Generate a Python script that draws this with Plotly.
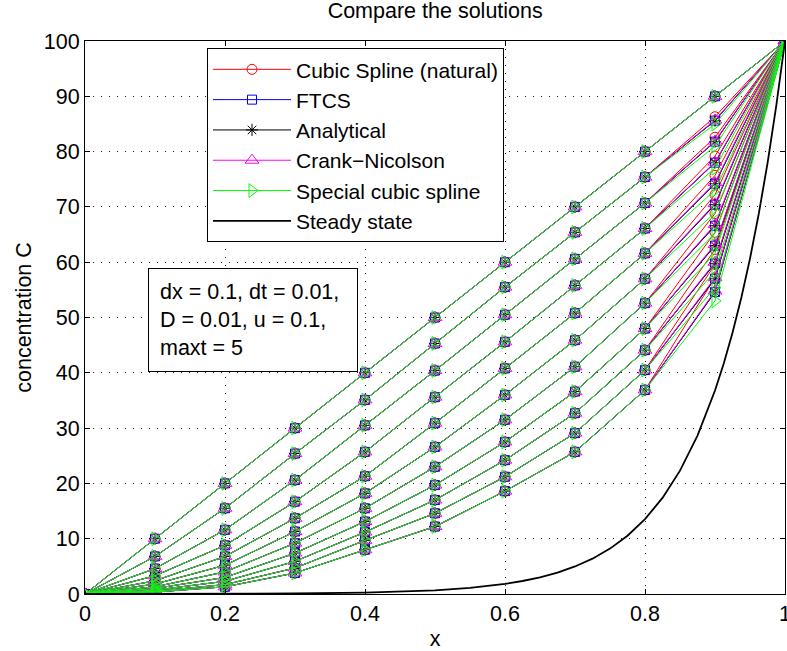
import plotly.graph_objects as go

# ---------------- data ----------------
x_nodes = [0.0, 0.1, 0.2, 0.3, 0.4, 0.5, 0.6, 0.7, 0.8, 0.9, 1.0]
times = [0.0, 0.5, 1.0, 1.5, 2.0, 2.5, 3.0, 3.5, 4.0, 4.5, 5.0]

# Analytical profiles (one row per time)
analytical = [
    [0, 10.0, 20.0, 30.0, 40.0, 50.0, 60.0, 70.0, 80.0, 90.0, 100],
    [0, 6.8, 15.5, 25.4, 35.1, 45.3, 55.5, 65.4, 75.4, 85.6, 100],
    [0, 4.6, 11.6, 20.6, 30.5, 40.4, 50.5, 60.6, 70.7, 81.8, 100],
    [0, 3.3, 8.8, 16.7, 25.7, 35.6, 45.6, 55.8, 66.1, 78.0, 100],
    [0, 2.4, 6.8, 13.7, 21.3, 30.9, 40.8, 50.8, 61.6, 74.2, 100],
    [0, 1.8, 5.2, 11.3, 18.2, 26.6, 36.0, 45.9, 57.0, 70.4, 100],
    [0, 1.3, 4.0, 9.2, 15.5, 23.0, 31.5, 41.1, 52.6, 66.6, 100],
    [0, 1.0, 3.0, 7.4, 13.1, 19.7, 27.5, 36.6, 48.0, 63.0, 100],
    [0, 0.7, 2.3, 5.9, 11.2, 17.0, 24.2, 32.7, 44.1, 59.8, 100],
    [0, 0.5, 1.7, 4.7, 9.7, 14.6, 21.2, 29.1, 40.5, 57.0, 100],
    [0, 0.35, 1.3, 3.8, 8.0, 12.2, 18.6, 25.7, 36.9, 54.6, 100],
]

# values at x = 0.9 where the methods visibly differ
c09_cubic = [90.0, 86.3, 82.6, 79.2, 75.7, 72.2, 68.8, 65.4, 62.3, 59.6, 57.2]
c09_ftcs = [90.0, 85.6, 81.8, 78.0, 74.2, 70.4, 66.6, 63.0, 59.8, 57.0, 54.6]
c09_cn = [90.0, 85.7, 81.9, 78.1, 74.4, 70.6, 66.8, 63.2, 60.0, 57.2, 54.8]
c09_special = [90.0, 85.0, 81.0, 77.0, 73.0, 69.0, 65.2, 61.6, 58.3, 55.4, 53.0]

# steady state curve
ss_x = [0.0, 0.1, 0.2, 0.3, 0.4, 0.45, 0.5, 0.55, 0.6, 0.625, 0.65, 0.675, 0.7,
        0.725, 0.75, 0.775, 0.8, 0.825, 0.85, 0.875, 0.9, 0.9125, 0.925, 0.9375,
        0.95, 0.9625, 0.975, 0.9875, 1.0]
ss_c = [0.0, 0.01, 0.03, 0.09, 0.25, 0.41, 0.67, 1.11, 1.83, 2.35, 3.02, 3.88, 4.98,
        6.39, 8.21, 10.54, 13.53, 17.38, 22.31, 28.65, 36.79, 41.69, 47.24, 53.53,
        60.65, 68.73, 77.88, 88.25, 100.0]

methods = [
    ("Cubic Spline (natural)", "#ff0000", "circle-open", 10, c09_cubic),
    ("FTCS", "#0000ff", "square-open", 9, c09_ftcs),
    ("Analytical", "#000000", "asterisk-open", 10, None),
    ("Crank\u2212Nicolson", "#ff00ff", "triangle-up-open", 12, c09_cn),
    ("Special cubic spline", "#00ff00", "triangle-right-open", 12, c09_special),
]

FONT = "Liberation Sans, Arial, Helvetica, sans-serif"
FS = 21.5

fig = go.Figure()
for i, (name, color, symbol, msize, c09) in enumerate(methods):
    xs, ys = [], []
    for k, row in enumerate(analytical):
        r = list(row)
        if c09 is not None:
            r[9] = c09[k]
        xs += x_nodes + [None]
        ys += r + [None]
    fig.add_trace(go.Scatter(
        x=xs, y=ys, mode="lines+markers", name=name, legendgroup=name,
        line=dict(color=color, width=1),
        marker=dict(symbol=symbol, size=msize, color=color, line=dict(color=color, width=1)),
    ))

fig.add_trace(go.Scatter(
    x=ss_x, y=ss_c, mode="lines", name="Steady state", legendgroup="ss",
    line=dict(color="black", width=1.8),
))

fig.update_layout(
    width=787, height=651,
    margin=dict(l=85, r=2, t=41, b=57, autoexpand=False),
    paper_bgcolor="white", plot_bgcolor="white",
    font=dict(family=FONT, size=FS, color="black"),
    title=dict(text="Compare the solutions", x=0.553, xanchor="center",
               y=0.984, yanchor="middle", font=dict(size=FS)),
    showlegend=True,
    legend=dict(
        x=0.1743, y=0.987, xanchor="left", yanchor="top",
        bgcolor="white", bordercolor="black", borderwidth=1,
        font=dict(size=21), traceorder="grouped", tracegroupgap=0,
        itemwidth=78,
    ),
)

GRID = dict(showgrid=True, gridcolor="#222", griddash="1px,7px", gridwidth=1)
fig.update_xaxes(
    range=[0, 1], tickmode="array", tickvals=[0, 0.2, 0.4, 0.6, 0.8, 1.0],
    ticktext=["0", "0.2", "0.4", "0.6", "0.8", "1"], ticklabeloverflow="allow",
    showline=True, linecolor="black", linewidth=1, mirror="ticks",
    ticks="inside", ticklen=5, tickcolor="black", automargin=False,
    zeroline=False, **GRID,
    title=dict(text="x", font=dict(size=FS), standoff=14),
)
fig.update_yaxes(
    range=[0, 100], tickmode="array", tickvals=list(range(0, 101, 10)),
    showline=True, linecolor="black", linewidth=1, mirror="ticks",
    ticks="inside", ticklen=5, tickcolor="black", automargin=False,
    zeroline=False, **GRID,
    title=dict(text="concentration C", font=dict(size=FS), standoff=6),
)

fig.add_annotation(
    xref="paper", yref="paper", x=0.09, y=0.5895, xanchor="left", yanchor="top",
    text="dx = 0.1, dt = 0.01,<br>D = 0.01, u = 0.1,<br>maxt = 5",
    showarrow=False, align="left", font=dict(size=FS),
    bgcolor="white", bordercolor="black", borderwidth=1, borderpad=11,
    width=186, height=80,
)

fig.write_html("out.html")
